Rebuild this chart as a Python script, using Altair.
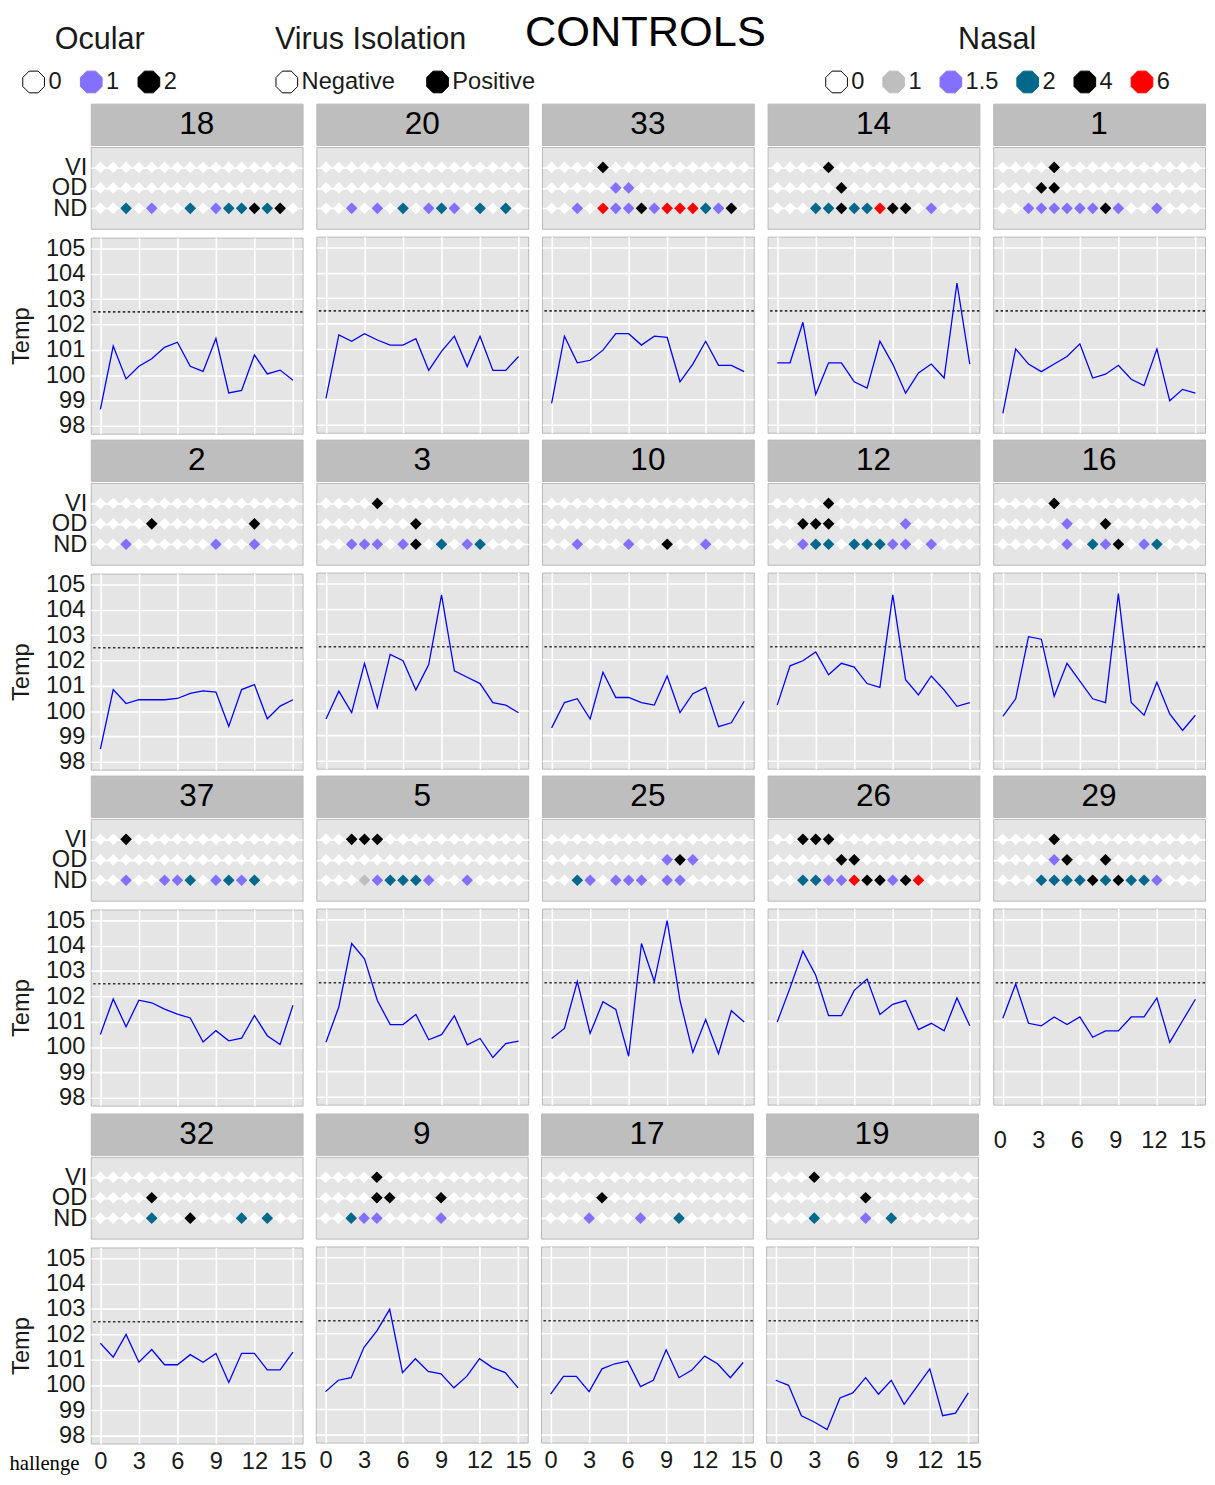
import altair as alt
import pandas as pd

# ---------------- data ----------------
MAIN_TITLE = "CONTROLS"
DAYS = [0, 1, 2, 3, 4, 5, 6, 7, 8, 9, 10, 11, 12, 13, 14, 15]
ANIMAL_ROWS = [
    ["18", "20", "33", "14", "1"],
    ["2", "3", "10", "12", "16"],
    ["37", "5", "25", "26", "29"],
    ["32", "9", "17", "19"],
]
THRESHOLD = 102.5

TEMP = {
    "18": [98.65, 101.15, 99.85, 100.35, 100.65, 101.1, 101.3, 100.35, 100.15, 101.45, 99.3, 99.4, 100.8, 100.05, 100.2, 99.8],
    "20": [99.05, 101.55, 101.3, 101.6, 101.35, 101.15, 101.15, 101.4, 100.15, 100.9, 101.5, 100.3, 101.5, 100.15, 100.15, 100.7],
    "33": [98.85, 101.5, 100.45, 100.55, 100.95, 101.6, 101.6, 101.15, 101.5, 101.45, 99.7, 100.4, 101.3, 100.35, 100.35, 100.1],
    "14": [100.45, 100.45, 102.05, 99.2, 100.45, 100.45, 99.7, 99.45, 101.3, 100.4, 99.25, 100.05, 100.4, 99.85, 103.6, 100.4],
    "1": [98.45, 101.0, 100.4, 100.1, 100.4, 100.7, 101.2, 99.85, 100.0, 100.35, 99.8, 99.55, 101.0, 98.95, 99.4, 99.25],
    "2": [98.5, 100.85, 100.3, 100.45, 100.45, 100.45, 100.5, 100.7, 100.8, 100.75, 99.4, 100.85, 101.05, 99.7, 100.2, 100.45],
    "3": [99.65, 100.75, 99.9, 101.85, 100.1, 102.2, 101.95, 100.8, 101.8, 104.55, 101.55, 101.3, 101.05, 100.3, 100.2, 99.9],
    "10": [99.3, 100.3, 100.45, 99.65, 101.5, 100.5, 100.5, 100.3, 100.2, 101.35, 99.9, 100.65, 100.9, 99.35, 99.5, 100.35],
    "12": [100.2, 101.75, 101.95, 102.3, 101.4, 101.85, 101.7, 101.05, 100.9, 104.55, 101.2, 100.6, 101.35, 100.8, 100.15, 100.3],
    "16": [99.75, 100.45, 102.9, 102.8, 100.55, 101.85, 101.15, 100.45, 100.3, 104.6, 100.3, 99.8, 101.1, 99.85, 99.2, 99.8],
    "37": [100.5, 101.9, 100.8, 101.85, 101.75, 101.5, 101.3, 101.15, 100.2, 100.65, 100.25, 100.35, 101.25, 100.45, 100.1, 101.65],
    "5": [100.15, 101.55, 104.05, 103.45, 101.8, 100.85, 100.85, 101.25, 100.25, 100.45, 101.2, 100.05, 100.3, 99.55, 100.1, 100.2],
    "25": [100.3, 100.7, 102.55, 100.5, 101.75, 101.45, 99.6, 104.05, 102.55, 104.95, 101.8, 99.75, 101.05, 99.7, 101.4, 100.95],
    "26": [100.95, 102.3, 103.75, 102.8, 101.2, 101.2, 102.2, 102.65, 101.25, 101.65, 101.8, 100.65, 100.9, 100.6, 101.9, 100.8],
    "29": [101.1, 102.45, 100.9, 100.8, 101.15, 100.85, 101.15, 100.35, 100.6, 100.6, 101.15, 101.15, 101.9, 100.15, 101.0, 101.85],
    "32": [101.65, 101.1, 102.0, 100.9, 101.4, 100.8, 100.8, 101.2, 100.9, 101.25, 100.1, 101.25, 101.25, 100.6, 100.6, 101.3],
    "9": [99.7, 100.15, 100.25, 101.45, 102.1, 102.95, 100.45, 101.0, 100.5, 100.4, 99.85, 100.3, 101.0, 100.65, 100.45, 99.85],
    "17": [99.6, 100.3, 100.3, 99.7, 100.6, 100.8, 100.9, 99.9, 100.15, 101.35, 100.25, 100.55, 101.1, 100.8, 100.25, 100.85],
    "19": [100.15, 99.95, 98.75, 98.5, 98.2, 99.45, 99.65, 100.25, 99.6, 100.15, 99.2, 99.9, 100.6, 98.75, 98.85, 99.65],
}

# Virus isolation (0 negative, 1 positive)
VI = {
    "18": [0, 0, 0, 0, 0, 0, 0, 0, 0, 0, 0, 0, 0, 0, 0, 0],
    "20": [0, 0, 0, 0, 0, 0, 0, 0, 0, 0, 0, 0, 0, 0, 0, 0],
    "33": [0, 0, 0, 0, 1, 0, 0, 0, 0, 0, 0, 0, 0, 0, 0, 0],
    "14": [0, 0, 0, 0, 1, 0, 0, 0, 0, 0, 0, 0, 0, 0, 0, 0],
    "1": [0, 0, 0, 0, 1, 0, 0, 0, 0, 0, 0, 0, 0, 0, 0, 0],
    "2": [0, 0, 0, 0, 0, 0, 0, 0, 0, 0, 0, 0, 0, 0, 0, 0],
    "3": [0, 0, 0, 0, 1, 0, 0, 0, 0, 0, 0, 0, 0, 0, 0, 0],
    "10": [0, 0, 0, 0, 0, 0, 0, 0, 0, 0, 0, 0, 0, 0, 0, 0],
    "12": [0, 0, 0, 0, 1, 0, 0, 0, 0, 0, 0, 0, 0, 0, 0, 0],
    "16": [0, 0, 0, 0, 1, 0, 0, 0, 0, 0, 0, 0, 0, 0, 0, 0],
    "37": [0, 0, 1, 0, 0, 0, 0, 0, 0, 0, 0, 0, 0, 0, 0, 0],
    "5": [0, 0, 1, 1, 1, 0, 0, 0, 0, 0, 0, 0, 0, 0, 0, 0],
    "25": [0, 0, 0, 0, 0, 0, 0, 0, 0, 0, 0, 0, 0, 0, 0, 0],
    "26": [0, 0, 1, 1, 1, 0, 0, 0, 0, 0, 0, 0, 0, 0, 0, 0],
    "29": [0, 0, 0, 0, 1, 0, 0, 0, 0, 0, 0, 0, 0, 0, 0, 0],
    "32": [0, 0, 0, 0, 0, 0, 0, 0, 0, 0, 0, 0, 0, 0, 0, 0],
    "9": [0, 0, 0, 0, 1, 0, 0, 0, 0, 0, 0, 0, 0, 0, 0, 0],
    "17": [0, 0, 0, 0, 0, 0, 0, 0, 0, 0, 0, 0, 0, 0, 0, 0],
    "19": [0, 0, 0, 1, 0, 0, 0, 0, 0, 0, 0, 0, 0, 0, 0, 0],
}

# Ocular discharge score (0, 1, 2)
OD = {
    "18": [0, 0, 0, 0, 0, 0, 0, 0, 0, 0, 0, 0, 0, 0, 0, 0],
    "20": [0, 0, 0, 0, 0, 0, 0, 0, 0, 0, 0, 0, 0, 0, 0, 0],
    "33": [0, 0, 0, 0, 0, 1, 1, 0, 0, 0, 0, 0, 0, 0, 0, 0],
    "14": [0, 0, 0, 0, 0, 2, 0, 0, 0, 0, 0, 0, 0, 0, 0, 0],
    "1": [0, 0, 0, 2, 2, 0, 0, 0, 0, 0, 0, 0, 0, 0, 0, 0],
    "2": [0, 0, 0, 0, 2, 0, 0, 0, 0, 0, 0, 0, 2, 0, 0, 0],
    "3": [0, 0, 0, 0, 0, 0, 0, 2, 0, 0, 0, 0, 0, 0, 0, 0],
    "10": [0, 0, 0, 0, 0, 0, 0, 0, 0, 0, 0, 0, 0, 0, 0, 0],
    "12": [0, 0, 2, 2, 2, 0, 0, 0, 0, 0, 1, 0, 0, 0, 0, 0],
    "16": [0, 0, 0, 0, 0, 1, 0, 0, 2, 0, 0, 0, 0, 0, 0, 0],
    "37": [0, 0, 0, 0, 0, 0, 0, 0, 0, 0, 0, 0, 0, 0, 0, 0],
    "5": [0, 0, 0, 0, 0, 0, 0, 0, 0, 0, 0, 0, 0, 0, 0, 0],
    "25": [0, 0, 0, 0, 0, 0, 0, 0, 0, 1, 2, 1, 0, 0, 0, 0],
    "26": [0, 0, 0, 0, 0, 2, 2, 0, 0, 0, 0, 0, 0, 0, 0, 0],
    "29": [0, 0, 0, 0, 1, 2, 0, 0, 2, 0, 0, 0, 0, 0, 0, 0],
    "32": [0, 0, 0, 0, 2, 0, 0, 0, 0, 0, 0, 0, 0, 0, 0, 0],
    "9": [0, 0, 0, 0, 2, 2, 0, 0, 0, 2, 0, 0, 0, 0, 0, 0],
    "17": [0, 0, 0, 0, 2, 0, 0, 0, 0, 0, 0, 0, 0, 0, 0, 0],
    "19": [0, 0, 0, 0, 0, 0, 0, 2, 0, 0, 0, 0, 0, 0, 0, 0],
}

# Nasal discharge score (0, 1, 1.5, 2, 4, 6)
ND = {
    "18": [0, 0, 2, 0, 1.5, 0, 0, 2, 0, 1.5, 2, 2, 4, 2, 4, 0],
    "20": [0, 0, 1.5, 0, 1.5, 0, 2, 0, 1.5, 2, 1.5, 0, 2, 0, 2, 0],
    "33": [0, 0, 1.5, 0, 6, 1.5, 1.5, 4, 1.5, 6, 6, 6, 2, 1.5, 4, 0],
    "14": [0, 0, 0, 2, 2, 4, 2, 2, 6, 4, 4, 0, 1.5, 0, 0, 0],
    "1": [0, 0, 1.5, 1.5, 1.5, 1.5, 1.5, 1.5, 4, 1.5, 0, 0, 1.5, 0, 0, 0],
    "2": [0, 0, 1.5, 0, 0, 0, 0, 0, 0, 1.5, 0, 0, 1.5, 0, 0, 0],
    "3": [0, 0, 1.5, 1.5, 1.5, 0, 1.5, 4, 0, 2, 0, 1.5, 2, 0, 0, 0],
    "10": [0, 0, 1.5, 0, 0, 0, 1.5, 0, 0, 4, 0, 0, 1.5, 0, 0, 0],
    "12": [0, 0, 1.5, 2, 2, 0, 2, 2, 2, 1.5, 1.5, 0, 1.5, 0, 0, 0],
    "16": [0, 0, 0, 0, 0, 1.5, 0, 2, 1.5, 4, 0, 1.5, 2, 0, 0, 0],
    "37": [0, 0, 1.5, 0, 0, 1.5, 1.5, 2, 0, 1.5, 2, 1.5, 2, 0, 0, 0],
    "5": [0, 0, 0, 1, 1.5, 2, 2, 2, 1.5, 0, 0, 1.5, 0, 0, 0, 0],
    "25": [0, 0, 2, 1.5, 0, 1.5, 1.5, 1.5, 0, 1.5, 1.5, 0, 0, 0, 0, 0],
    "26": [0, 0, 2, 2, 1.5, 1.5, 6, 4, 4, 1.5, 4, 6, 0, 0, 0, 0],
    "29": [0, 0, 0, 2, 2, 2, 2, 4, 2, 4, 2, 2, 1.5, 0, 0, 0],
    "32": [0, 0, 0, 0, 2, 0, 0, 4, 0, 0, 0, 2, 0, 2, 0, 0],
    "9": [0, 0, 2, 1.5, 1.5, 0, 0, 0, 0, 1.5, 0, 0, 0, 0, 0, 0],
    "17": [0, 0, 0, 1.5, 0, 0, 0, 1.5, 0, 0, 2, 0, 0, 0, 0, 0],
    "19": [0, 0, 0, 2, 0, 0, 0, 1.5, 0, 2, 0, 0, 0, 0, 0, 0],
}

ROW_LABELS = ["VI", "OD", "ND"]
X_TICKS = [0, 3, 6, 9, 12, 15]
Y_TICKS = [98, 99, 100, 101, 102, 103, 104, 105]
X_TITLE = "hallenge"

OCULAR_LABELS = ["0", "1", "2"]
OCULAR_CODES = [0, 1, 2]
OCULAR_COLORS = ["#ffffff", "#8470ff", "#000000"]
VI_LABELS = ["Negative", "Positive"]
VI_CODES = [0, 1]
VI_COLORS = ["#ffffff", "#000000"]
NASAL_LABELS = ["0", "1", "1.5", "2", "4", "6"]
NASAL_CODES = [0, 1, 1.5, 2, 4, 6]
NASAL_COLORS = ["#ffffff", "#bebebe", "#8470ff", "#00688b", "#000000", "#ff0000"]

# ---------------- style ----------------
FONT = "Liberation Sans"
TXT = "#1a1a1a"
W = 215
STRIP_H = 42
DOT_H = 83
TEMP_H = 199
HEADER_H = 90
X_DOMAIN = [-0.75, 15.75]
Y_DOMAIN = [97.69, 105.43]
PANEL_FILL = "#e5e5e5"
STRIP_FILL = "#bebebe"
BORDER = "#b8b8b8"
GRID_W = 1.6
OCT = "M-0.414,-1L0.414,-1L1,-0.414L1,0.414L0.414,1L-0.414,1L-1,0.414L-1,-0.414Z"
CLEAR = alt.ViewBackground(fill="transparent", stroke="transparent")

xscale = alt.Scale(domain=X_DOMAIN, nice=False, zero=False)
yscale = alt.Scale(domain=Y_DOMAIN, nice=False, zero=False)


def strip_chart(aid):
    return alt.Chart(pd.DataFrame({"animal": [aid]})).mark_text(
        fontSize=32, font=FONT, color="#000000"
    ).encode(text="animal:N").properties(
        width=W, height=STRIP_H, view=alt.ViewBackground(fill=STRIP_FILL, stroke=BORDER)
    )


def dot_chart(aid, first):
    recs = []
    for lab, src, codes, cols in (
        ("VI", VI, VI_CODES, VI_COLORS),
        ("OD", OD, OCULAR_CODES, OCULAR_COLORS),
        ("ND", ND, NASAL_CODES, NASAL_COLORS),
    ):
        cmap = dict(zip(codes, cols))
        for d, v in zip(DAYS, src[aid]):
            recs.append({"day": d, "row": lab, "color": cmap[v]})
    df = pd.DataFrame(recs)
    yaxis = alt.Axis(
        title=None, labels=first, ticks=False, domain=False, grid=True,
        gridColor="white", gridWidth=GRID_W, labelFontSize=24, labelFont=FONT,
        labelColor=TXT, labelPadding=4, minExtent=0,
    )
    return alt.Chart(df).mark_point(
        shape="diamond", filled=True, size=140, opacity=1
    ).encode(
        x=alt.X("day:Q", scale=xscale, axis=None),
        y=alt.Y("row:N", sort=ROW_LABELS, scale=alt.Scale(type="point", padding=1.075), axis=yaxis),
        color=alt.Color("color:N", scale=None),
    ).properties(width=W, height=DOT_H, view=alt.ViewBackground(fill=PANEL_FILL, stroke=BORDER))


def temp_chart(aid, first, xlabels, xtitle=False):
    df = pd.DataFrame({"day": DAYS, "temp": TEMP[aid]})
    xa = dict(
        values=X_TICKS, grid=True, gridColor="white", gridWidth=GRID_W, ticks=False,
        domain=False, labels=xlabels, labelFontSize=24, labelFont=FONT, labelColor=TXT,
        labelPadding=6, minExtent=0, title=None,
    )
    if xtitle:
        xa.update(
            title=X_TITLE, titleX=-12, titleY=20, titleAlign="right",
            titleBaseline="middle", titleFont="Liberation Serif", titleFontSize=21,
            titleFontWeight="normal", titleColor="#000000",
        )
    xaxis = alt.Axis(**xa)
    yaxis = alt.Axis(
        values=Y_TICKS, grid=True, gridColor="white", gridWidth=GRID_W, ticks=False,
        domain=False, labels=first, labelFontSize=24, labelFont=FONT, labelColor=TXT,
        labelPadding=6, minExtent=0, title="Temp" if first else None, titleFontSize=24,
        titleFont=FONT, titleFontWeight="normal", titleColor=TXT, titlePadding=12,
    )
    y = alt.Y("temp:Q", scale=yscale, axis=yaxis)
    rule = alt.Chart(pd.DataFrame({"temp": [THRESHOLD]})).mark_rule(
        color="#333333", strokeDash=[2.5, 2.5], strokeWidth=1.6
    ).encode(y=y)
    line = alt.Chart(df).mark_line(color="#0000ff", strokeWidth=1.3).encode(
        x=alt.X("day:Q", scale=xscale, axis=xaxis), y=y
    )
    return alt.layer(rule, line).properties(
        width=W, height=TEMP_H, view=alt.ViewBackground(fill=PANEL_FILL, stroke=BORDER)
    )


def cell(aid, first, xlabels, xtitle=False):
    top = alt.vconcat(strip_chart(aid), dot_chart(aid, first), spacing=0)
    return alt.vconcat(top, temp_chart(aid, first, xlabels, xtitle), spacing=6)


def legend_layer(field, title, labels, fills, lx, ly, anchor, colpad):
    strokes = ["#000000"] + fills[1:]
    leg = dict(
        title=title, orient="none", legendX=lx, legendY=ly, direction="horizontal",
        titleOrient="top", titleAnchor=anchor, titleFontSize=31, titleFont=FONT,
        titleFontWeight="normal", titleColor=TXT, titlePadding=14, titleLimit=400,
        labelFontSize=24, labelFont=FONT, labelColor=TXT, labelOffset=3,
        symbolType=OCT, symbolSize=484, symbolStrokeWidth=1, columnPadding=colpad,
        symbolOpacity=1,
    )
    df = pd.DataFrame({field: labels})
    return alt.Chart(df).transform_filter("false").mark_point(
        shape=OCT, filled=True, opacity=1
    ).encode(
        fill=alt.Fill(f"{field}:N", scale=alt.Scale(domain=labels, range=fills), legend=alt.Legend(**leg)),
        stroke=alt.Stroke(f"{field}:N", scale=alt.Scale(domain=labels, range=strokes), legend=alt.Legend(**leg)),
    )


title_layer = alt.Chart(pd.DataFrame({"title": [MAIN_TITLE]})).mark_text(
    fontSize=44, font=FONT, color="#000000", dx=5.5, dy=-18.5
).encode(text="title:N")

header = alt.layer(
    title_layer,
    legend_layer("ocular", "Ocular", OCULAR_LABELS, OCULAR_COLORS, -70, 19, "middle", 16.5),
    legend_layer("vi", "Virus Isolation", VI_LABELS, VI_COLORS, 187, 19, "start", 30),
    legend_layer("nasal", "Nasal", NASAL_LABELS, NASAL_COLORS, 745, 19, "middle", 16),
).resolve_scale(fill="independent", stroke="independent").properties(
    width=5 * W + 40, height=HEADER_H, view=CLEAR,
)

rows = []
n_rows = len(ANIMAL_ROWS)
for r, ids in enumerate(ANIMAL_ROWS):
    cells = []
    for c, aid in enumerate(ids):
        cells.append(cell(aid, c == 0, r == n_rows - 1, xtitle=(r == n_rows - 1 and c == 0)))
    if r == n_rows - 1:
        ph = alt.Chart(pd.DataFrame({"day": DAYS})).mark_point(opacity=0).encode(
            x=alt.X("day:Q", scale=xscale, axis=alt.Axis(
                values=X_TICKS, grid=False, ticks=False, domain=False, labelFontSize=24,
                labelFont=FONT, labelColor=TXT, labelPadding=15, title=None))
        ).properties(width=W, height=1, view=CLEAR)
        cells.append(ph)
        rows.append(alt.hconcat(*cells, spacing=6.5))
    else:
        rows.append(alt.hconcat(*cells, spacing=10))

grid = alt.vconcat(*rows, spacing=0)

chart = alt.vconcat(header, grid, spacing=6).properties(
    padding={"top": -13, "bottom": 0, "left": 0, "right": 0}, background="white"
).configure(font=FONT)

chart.save("out.html", embed_options={"renderer": "svg", "actions": False})
